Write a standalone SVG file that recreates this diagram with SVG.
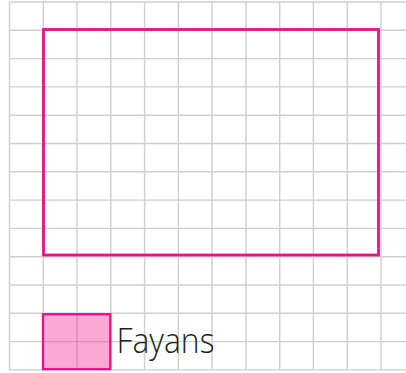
<svg xmlns="http://www.w3.org/2000/svg" width="406" height="373" viewBox="0 0 406 373">
<style>
.g{stroke:#cfcfcf;stroke-width:1.4;fill:none}
.pk{stroke:#e8118a;fill:none}
.lbl{font-family:"Open Sans","Liberation Sans",sans-serif;font-weight:300;font-size:35px;fill:#231f20}
</style>
<rect width="406" height="373" fill="#ffffff"/>
<g id="grid" class="g">
<line x1="9.5" y1="2" x2="9.5" y2="370"/>
<line x1="43.3" y1="2" x2="43.3" y2="370"/>
<line x1="77" y1="2" x2="77" y2="370"/>
<line x1="110.8" y1="2" x2="110.8" y2="370"/>
<line x1="144.6" y1="2" x2="144.6" y2="370"/>
<line x1="178.4" y1="2" x2="178.4" y2="370"/>
<line x1="212.1" y1="2" x2="212.1" y2="370"/>
<line x1="245.9" y1="2" x2="245.9" y2="370"/>
<line x1="279.7" y1="2" x2="279.7" y2="370"/>
<line x1="313.4" y1="2" x2="313.4" y2="370"/>
<line x1="347.2" y1="2" x2="347.2" y2="370"/>
<line x1="381" y1="2" x2="381" y2="370"/>
<line x1="9.5" y1="2" x2="406" y2="2"/>
<line x1="9.5" y1="30.3" x2="406" y2="30.3"/>
<line x1="9.5" y1="58.6" x2="406" y2="58.6"/>
<line x1="9.5" y1="86.9" x2="406" y2="86.9"/>
<line x1="9.5" y1="115.2" x2="406" y2="115.2"/>
<line x1="9.5" y1="143.5" x2="406" y2="143.5"/>
<line x1="9.5" y1="171.8" x2="406" y2="171.8"/>
<line x1="9.5" y1="200.1" x2="406" y2="200.1"/>
<line x1="9.5" y1="228.4" x2="406" y2="228.4"/>
<line x1="9.5" y1="256.7" x2="406" y2="256.7"/>
<line x1="9.5" y1="285" x2="406" y2="285"/>
<line x1="9.5" y1="313.3" x2="406" y2="313.3"/>
<line x1="9.5" y1="341.6" x2="406" y2="341.6"/>
<line x1="9.5" y1="369.9" x2="406" y2="369.9"/>
</g>
<g id="rectangle">
<rect class="pk" x="43.5" y="29.5" width="335" height="225.5" stroke-width="2.8"/>
</g>
<g id="tile">
<rect x="43" y="314.2" width="67.3" height="55" fill="#ee1e8c" fill-opacity="0.38" stroke="#e8118a" stroke-width="2.3"/>
<text class="lbl" x="116.5" y="352.7" textLength="98" lengthAdjust="spacingAndGlyphs">Fayans</text>
</g>
</svg>
